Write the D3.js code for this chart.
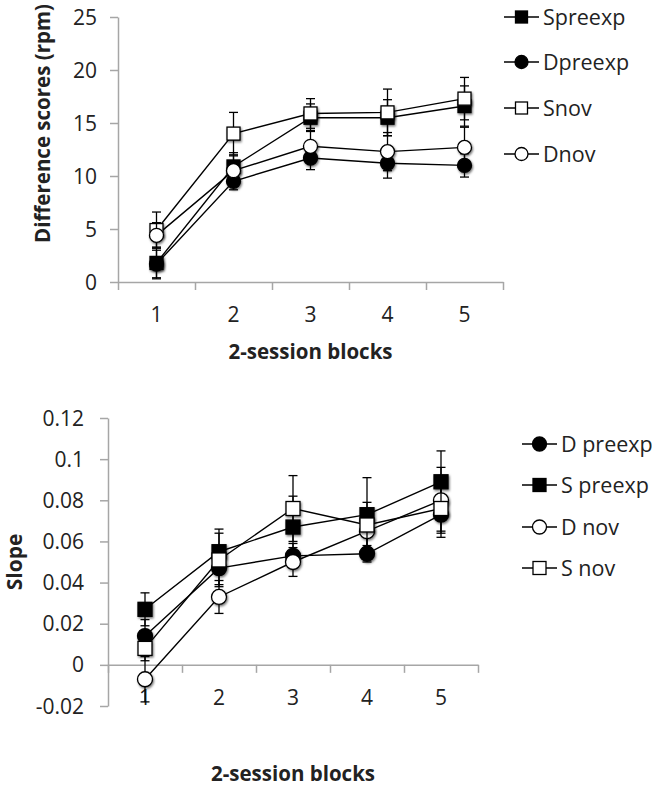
<!DOCTYPE html>
<html>
<head>
<meta charset="utf-8">
<script src="https://cdn.jsdelivr.net/npm/d3@7"></script>
<style>
  html, body { margin: 0; padding: 0; background: #fff; }
  svg { display: block; font-family: "Open Sans", sans-serif; }
</style>
</head>
<body>
<svg id="chart" width="652" height="786"></svg>
<script>
// ---------- DATA ----------
const blocks = [1, 2, 3, 4, 5];

// Top panel: difference scores (rpm)
const topNames = ["Spreexp", "Dpreexp", "Snov", "Dnov"];
const topSpreexp = [1.8, 10.9, 15.5, 15.5, 16.6];
const topSpreexpErr = [1.5, 1.3, 1.3, 1.7, 1.9];
const topDpreexp = [1.7, 9.5, 11.7, 11.2, 11.0];
const topDpreexpErr = [1.3, 0.8, 1.1, 1.4, 1.1];
const topSnov = [4.9, 14.0, 15.9, 16.0, 17.3];
const topSnovErr = [1.7, 2.0, 1.4, 2.2, 2.0];
const topDnov = [4.4, 10.5, 12.8, 12.3, 12.7];
const topDnovErr = [1.2, 1.4, 1.5, 1.8, 1.9];
const topYTicks = [0, 5, 10, 15, 20, 25];

// Bottom panel: slope
const botNames = ["D preexp", "S preexp", "D nov", "S nov"];
const botDpreexp = [0.014, 0.047, 0.053, 0.054, 0.073];
const botDpreexpErr = [0.008, 0.008, 0.006, 0.004, 0.008];
const botSpreexp = [0.027, 0.055, 0.067, 0.073, 0.089];
const botSpreexpErr = [0.008, 0.011, 0.015, 0.018, 0.015];
const botDnov = [-0.007, 0.033, 0.050, 0.065, 0.080];
const botDnovErr = [0.011, 0.008, 0.007, 0.008, 0.016];
const botSnov = [0.008, 0.051, 0.076, 0.068, 0.076];
const botSnovErr = [0.006, 0.013, 0.016, 0.011, 0.014];
const botYTicks = [-0.02, 0, 0.02, 0.04, 0.06, 0.08, 0.1, 0.12];

// ---------- STYLE ----------
const AXIS = "#a6a6a6";
const TXT = "#222";
const svg = d3.select("#chart");

const defs = svg.append("defs");
const f = defs.append("filter").attr("id", "shadow")
  .attr("x", "-50%").attr("y", "-50%").attr("width", "200%").attr("height", "200%");
f.append("feDropShadow").attr("dx", 1).attr("dy", 1.5)
  .attr("stdDeviation", 1.3).attr("flood-color", "#000").attr("flood-opacity", 0.55);

function drawPanel(cfg) {
  const g = svg.append("g");
  const x = d3.scaleLinear().domain([0.5, 5.5]).range(cfg.xRange);
  const y = d3.scaleLinear().domain(cfg.yDomain).range(cfg.yRange);
  const axisY = y(cfg.xAxisAt);

  // y axis
  const ya = g.append("g").attr("transform", `translate(${cfg.xRange[0]},0)`)
    .call(d3.axisLeft(y).tickValues(cfg.yTicks).tickSize(8).tickSizeOuter(0).tickFormat(""));
  ya.select(".domain").attr("stroke", AXIS).attr("stroke-width", 1.5);
  ya.selectAll(".tick line").attr("stroke", AXIS).attr("stroke-width", 1.5);
  g.selectAll(".ylab").data(cfg.yTicks).enter().append("text")
    .attr("x", cfg.yLabelX).attr("y", d => y(d)).attr("dy", "0.36em")
    .attr("text-anchor", "end").attr("font-size", cfg.tickFont).attr("fill", TXT)
    .text(cfg.yFormat);

  // x axis
  const xa = g.append("g").attr("transform", `translate(0,${axisY})`)
    .call(d3.axisBottom(x).tickValues([0.5, 1.5, 2.5, 3.5, 4.5, 5.5]).tickSize(8).tickSizeOuter(0).tickFormat(""));
  xa.select(".domain").attr("stroke", AXIS).attr("stroke-width", 1.5);
  xa.selectAll(".tick line").attr("stroke", AXIS).attr("stroke-width", 1.5);
  g.selectAll(".xlab").data(blocks).enter().append("text")
    .attr("x", d => x(d)).attr("y", axisY + 40)
    .attr("text-anchor", "middle").attr("font-size", cfg.tickFont).attr("fill", TXT)
    .text(d => d);

  // titles
  g.append("text").attr("x", (cfg.xRange[0] + cfg.xRange[1]) / 2).attr("y", cfg.xTitleY)
    .attr("text-anchor", "middle").attr("font-weight", "bold").attr("font-size", 20.5).attr("fill", TXT)
    .text("2-session blocks");
  g.append("text").attr("transform", `translate(${cfg.yTitleX},${cfg.yTitleY}) rotate(-90)`)
    .attr("text-anchor", cfg.yTitleAnchor).attr("font-weight", "bold").attr("font-size", cfg.yTitleFont).attr("fill", TXT)
    .text(cfg.yTitle);

  const line = d3.line().x((d, i) => x(blocks[i])).y(d => y(d));
  // lines
  cfg.series.forEach(s => {
    g.append("path").datum(s.values).attr("d", line)
      .attr("fill", "none").attr("stroke", "#000").attr("stroke-width", 1.4);
  });
  // error bars + markers
  const ms = cfg.markerSize;
  cfg.series.forEach(s => {
    const eg = g.append("g");
    s.values.forEach((v, i) => {
      const cx = x(blocks[i]), e = s.err[i];
      eg.append("line").attr("x1", cx).attr("x2", cx).attr("y1", y(v - e)).attr("y2", y(v + e))
        .attr("stroke", "#000").attr("stroke-width", 1.3);
      [v - e, v + e].forEach(t => eg.append("line").attr("x1", cx - 4.5).attr("x2", cx + 4.5)
        .attr("y1", y(t)).attr("y2", y(t)).attr("stroke", "#000").attr("stroke-width", 1.3));
    });
    const mg = g.append("g").attr("filter", "url(#shadow)");
    s.values.forEach((v, i) => {
      const cx = x(blocks[i]), cy = y(v);
      drawMarker(mg, s.shape, s.fill, cx, cy, ms);
    });
  });

  // legend
  cfg.series.forEach((s, i) => {
    const ly = cfg.legendY[i];
    const lg = g.append("g");
    lg.append("line").attr("x1", cfg.legendX).attr("x2", cfg.legendX + 35).attr("y1", ly).attr("y2", ly)
      .attr("stroke", "#000").attr("stroke-width", 1.4);
    drawMarker(lg, s.shape, s.fill, cfg.legendX + 17.5, ly, ms - 1);
    lg.append("text").attr("x", cfg.legendX + 39).attr("y", ly).attr("dy", "0.36em")
      .attr("font-size", cfg.legendFont).attr("fill", TXT).text(s.name);
  });
}

function drawMarker(g, shape, fill, cx, cy, size) {
  if (shape === "square") {
    g.append("rect").attr("x", cx - size / 2).attr("y", cy - size / 2)
      .attr("width", size).attr("height", size)
      .attr("fill", fill).attr("stroke", "#000").attr("stroke-width", 1.3);
  } else {
    g.append("circle").attr("cx", cx).attr("cy", cy).attr("r", size / 2 + 0.5)
      .attr("fill", fill).attr("stroke", "#000").attr("stroke-width", 1.3);
  }
}

drawPanel({
  xRange: [118, 503], yDomain: [0, 25], yRange: [282, 17], xAxisAt: 0,
  yTicks: topYTicks, yFormat: d => d, yLabelX: 97, tickFont: 21,
  xTitleY: 359, yTitle: "Difference scores (rpm)", yTitleX: 50, yTitleY: 4, yTitleAnchor: "end", yTitleFont: 20.5,
  markerSize: 13, legendX: 504, legendY: [17, 62, 108, 154], legendFont: 21.5,
  series: [
    { name: topNames[0], values: topSpreexp, err: topSpreexpErr, shape: "square", fill: "#000" },
    { name: topNames[1], values: topDpreexp, err: topDpreexpErr, shape: "circle", fill: "#000" },
    { name: topNames[2], values: topSnov, err: topSnovErr, shape: "square", fill: "#fff" },
    { name: topNames[3], values: topDnov, err: topDnovErr, shape: "circle", fill: "#fff" }
  ]
});

drawPanel({
  xRange: [108, 478], yDomain: [-0.02, 0.12], yRange: [706, 418], xAxisAt: 0,
  yTicks: botYTicks, yFormat: d => String(+d.toFixed(2)), yLabelX: 84, tickFont: 21,
  xTitleY: 781, yTitle: "Slope", yTitleX: 22, yTitleY: 562, yTitleAnchor: "middle", yTitleFont: 21,
  markerSize: 14, legendX: 522, legendY: [444, 485, 527, 568], legendFont: 21.5,
  series: [
    { name: botNames[0], values: botDpreexp, err: botDpreexpErr, shape: "circle", fill: "#000" },
    { name: botNames[1], values: botSpreexp, err: botSpreexpErr, shape: "square", fill: "#000" },
    { name: botNames[2], values: botDnov, err: botDnovErr, shape: "circle", fill: "#fff" },
    { name: botNames[3], values: botSnov, err: botSnovErr, shape: "square", fill: "#fff" }
  ]
});
</script>
</body>
</html>
